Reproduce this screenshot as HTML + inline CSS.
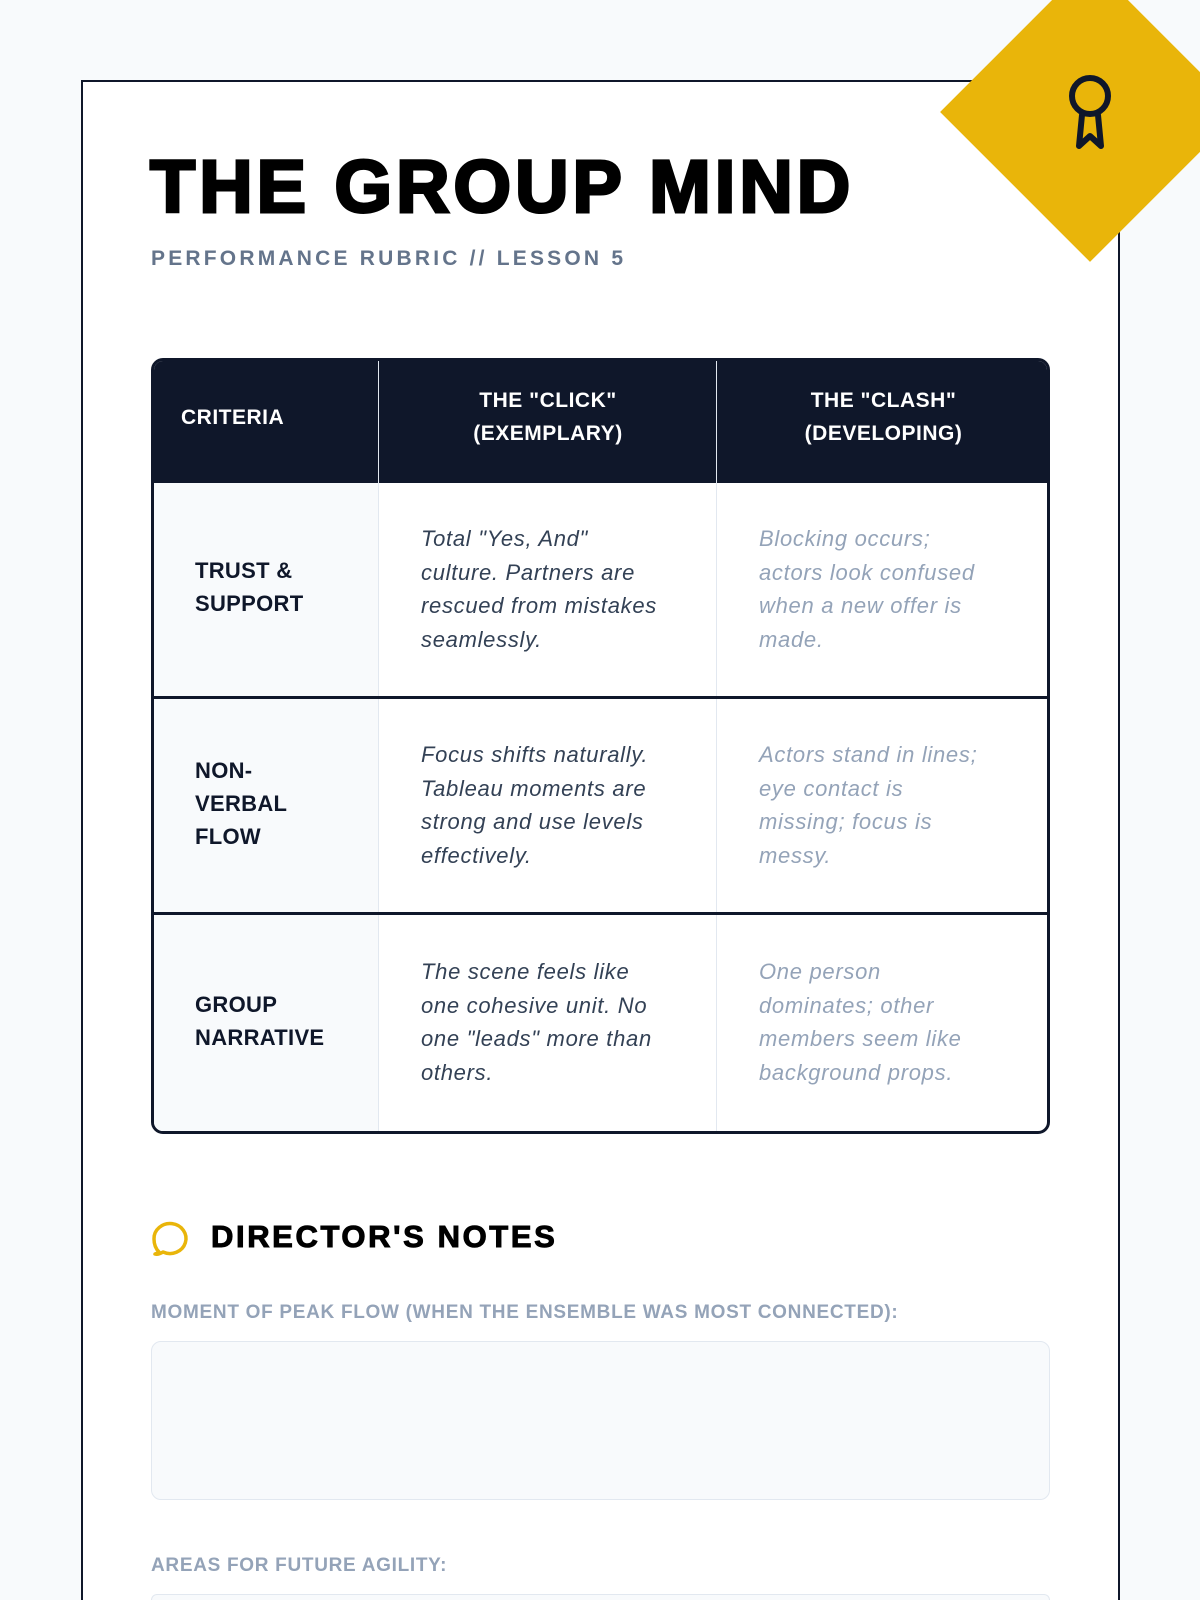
<!DOCTYPE html>
<html><head><meta charset="utf-8"><style>
*{margin:0;padding:0;box-sizing:border-box}
html,body{width:1200px;height:1600px;overflow:hidden}
body{background:#f8fafc;font-family:"Liberation Sans",sans-serif}
.wrap{position:relative;width:1200px;height:1600px;overflow:hidden;background:#f8fafc}
.card{position:absolute;left:81px;top:80px;width:1039px;height:1520px;background:#fff;border:2.5px solid #0f172a;border-bottom:none}
.diamond{position:absolute;left:984px;top:6px;width:212px;height:212px;background:#e9b50a;transform:rotate(45deg);transform-origin:center}
.abs{position:absolute}
h1{position:absolute;left:150px;top:150px;font-size:74px;font-weight:900;letter-spacing:4px;color:#000;line-height:1;-webkit-text-stroke:3px #000}
.sub{position:absolute;left:151px;top:247px;font-size:21px;font-weight:bold;letter-spacing:3.2px;color:#64748b}
.tbl{position:absolute;left:151px;top:358px;width:899px;height:776px;border:3px solid #0f172a;border-radius:12px;overflow:hidden;background:#fff}
.hdr{position:absolute;left:0;top:0;width:100%;height:122px;background:#0f172a}
.ht{position:absolute;color:#fff;font-weight:bold;font-size:21px;line-height:33px;text-align:center;letter-spacing:0.5px}
.crit{position:absolute;left:0;top:122px;width:225px;height:651px;background:#f8fafc}
.vl{position:absolute;top:0;width:1px;height:100%;background:#e2e8f0}
.hl{position:absolute;left:0;width:100%;height:3px;background:#0f172a}
.c{position:absolute;font-size:22px;font-weight:bold;line-height:33px;color:#0f172a;letter-spacing:0.3px}
.e{position:absolute;font-size:22px;font-style:italic;line-height:33.5px;color:#334155;white-space:nowrap;letter-spacing:0.7px}
.d{position:absolute;font-size:22px;font-style:italic;line-height:33.5px;color:#94a3b8;white-space:nowrap;letter-spacing:0.7px}
.lbl{position:absolute;left:151px;font-size:19px;font-weight:bold;color:#94a3b8;letter-spacing:0.7px}
.box{position:absolute;left:151px;width:899px;background:#f8fafc;border:1.5px solid #e2e8f0;border-radius:10px}
</style></head><body><div class="wrap">
<div class="card"></div>
<div class="diamond"></div>
<svg class="abs" style="left:1062px;top:72px" width="56" height="80" viewBox="0 0 56 80">
<circle cx="28" cy="24" r="18" fill="none" stroke="#0f172a" stroke-width="6"/>
<path d="M20 43 L17 74 L28 64 L39 74 L36 43" fill="none" stroke="#0f172a" stroke-width="6" stroke-linejoin="round" stroke-linecap="round"/>
</svg>
<h1>THE GROUP MIND</h1>
<div class="sub">PERFORMANCE RUBRIC // LESSON 5</div>
<div class="tbl">
<div class="hdr"></div>
<div class="crit"></div>
<div class="vl" style="left:224px"></div>
<div class="vl" style="left:562px"></div>
<div class="ht" style="left:27px;top:40px;text-align:left">CRITERIA</div>
<div class="ht" style="left:225px;width:338px;top:23px">THE "CLICK"<br>(EXEMPLARY)</div>
<div class="ht" style="left:563px;width:333px;top:23px">THE "CLASH"<br>(DEVELOPING)</div>
<div class="hl" style="top:335px"></div>
<div class="hl" style="top:551px"></div>
<div class="c" style="left:41px;top:193px">TRUST &amp;<br>SUPPORT</div>
<div class="e" style="left:267px;top:161px">Total "Yes, And"<br>culture. Partners are<br>rescued from mistakes<br>seamlessly.</div>
<div class="d" style="left:605px;top:161px">Blocking occurs;<br>actors look confused<br>when a new offer is<br>made.</div>
<div class="c" style="left:41px;top:393px">NON-<br>VERBAL<br>FLOW</div>
<div class="e" style="left:267px;top:377px">Focus shifts naturally.<br>Tableau moments are<br>strong and use levels<br>effectively.</div>
<div class="d" style="left:605px;top:377px">Actors stand in lines;<br>eye contact is<br>missing; focus is<br>messy.</div>
<div class="c" style="left:41px;top:627px">GROUP<br>NARRATIVE</div>
<div class="e" style="left:267px;top:594px">The scene feels like<br>one cohesive unit. No<br>one "leads" more than<br>others.</div>
<div class="d" style="left:605px;top:594px">One person<br>dominates; other<br>members seem like<br>background props.</div>
</div>
<svg class="abs" style="left:151px;top:1219px" width="40" height="40" viewBox="0 0 40 40">
<path d="M8 33 C4 29 3 24 3 20 A16 15 0 1 1 12 33 Q7 36 4 35 Q7 34 8 33 Z" fill="none" stroke="#e9b50a" stroke-width="3.5" stroke-linejoin="round"/>
</svg>
<div class="abs" style="left:211px;top:1219px;font-size:31px;font-weight:900;color:#000;-webkit-text-stroke:1px #000;letter-spacing:2.6px">DIRECTOR'S NOTES</div>
<div class="lbl" style="top:1302px">MOMENT OF PEAK FLOW (WHEN THE ENSEMBLE WAS MOST CONNECTED):</div>
<div class="box" style="top:1341px;height:159px"></div>
<div class="lbl" style="top:1555px">AREAS FOR FUTURE AGILITY:</div>
<div class="box" style="top:1594px;height:6px;border-bottom:none;border-radius:10px 10px 0 0"></div>
</div></body></html>
